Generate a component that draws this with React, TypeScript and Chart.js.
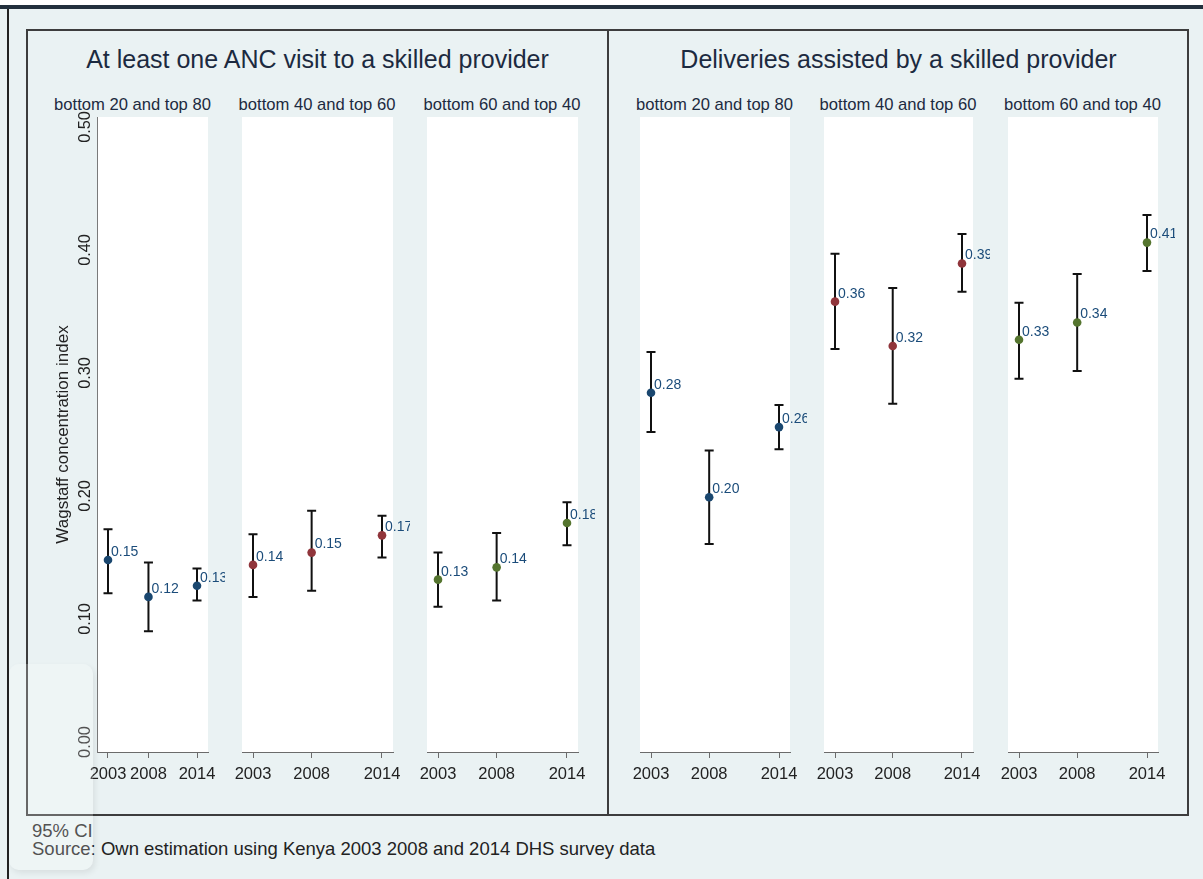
import React, { useEffect, useRef } from "react";
import { Chart, registerables } from "chart.js";

Chart.register(...registerables);

// Survey years shown on every panel
const years = [2003, 2008, 2014];
// Shared y-axis tick values
const yTicks = [0, 0.1, 0.2, 0.3, 0.4, 0.5];

// At least one ANC visit to a skilled provider: estimates and 95% CI bounds
const ancB20 = [0.148, 0.118, 0.127];
const ancB20Lo = [0.121, 0.09, 0.115];
const ancB20Hi = [0.173, 0.146, 0.141];

const ancB40 = [0.144, 0.154, 0.168];
const ancB40Lo = [0.118, 0.123, 0.15];
const ancB40Hi = [0.169, 0.188, 0.184];

const ancB60 = [0.132, 0.142, 0.178];
const ancB60Lo = [0.11, 0.115, 0.16];
const ancB60Hi = [0.154, 0.17, 0.195];

// Deliveries assisted by a skilled provider: estimates and 95% CI bounds
const delB20 = [0.284, 0.199, 0.256];
const delB20Lo = [0.252, 0.161, 0.238];
const delB20Hi = [0.317, 0.237, 0.274];

const delB40 = [0.358, 0.322, 0.389];
const delB40Lo = [0.3195, 0.275, 0.366];
const delB40Hi = [0.397, 0.369, 0.413];

const delB60 = [0.327, 0.341, 0.406];
const delB60Lo = [0.2954, 0.3016, 0.383];
const delB60Hi = [0.357, 0.3805, 0.4285];

const groupNames = ["bottom 20 and top 80", "bottom 40 and top 60", "bottom 60 and top 40"];
const groupColors = ["#1a476f", "#90353b", "#55752f"];

const FONT = "'Liberation Sans', Arial, Helvetica, sans-serif";
const TEXT_DARK = "#1c2a40";

// y range includes a small plot-region margin below 0 and above 0.5
const Y_MIN = -0.0081;
const Y_MAX = 0.5081;
const X_MARGIN_PX = 11;
const CANVAS_TOP = 100;
const CANVAS_HEIGHT = 700;
const SIDE_PAD = 17;

type PanelProps = {
  est: number[];
  lo: number[];
  hi: number[];
  color: string;
  plotLeft: number;
  plotRight: number;
  showY: boolean;
};

const ciPlugin = {
  id: "ciBars",
  beforeDraw(chart: any) {
    const { ctx, chartArea } = chart;
    ctx.save();
    ctx.fillStyle = "#ffffff";
    ctx.fillRect(chartArea.left, chartArea.top, chartArea.right - chartArea.left, chartArea.bottom - chartArea.top);
    ctx.restore();
  },
  beforeDatasetsDraw(chart: any, _args: any, opts: any) {
    const { ctx } = chart;
    const x = chart.scales.x;
    const y = chart.scales.y;
    ctx.save();
    ctx.strokeStyle = "#111111";
    ctx.lineWidth = 2;
    years.forEach((yr, i) => {
      const px = x.getPixelForValue(yr);
      const top = y.getPixelForValue(opts.hi[i]);
      const bot = y.getPixelForValue(opts.lo[i]);
      ctx.beginPath();
      ctx.moveTo(px, top);
      ctx.lineTo(px, bot);
      ctx.moveTo(px - 4.5, top);
      ctx.lineTo(px + 4.5, top);
      ctx.moveTo(px - 4.5, bot);
      ctx.lineTo(px + 4.5, bot);
      ctx.stroke();
    });
    ctx.restore();
  },
  afterDatasetsDraw(chart: any, _args: any, opts: any) {
    const { ctx } = chart;
    const x = chart.scales.x;
    const y = chart.scales.y;
    ctx.save();
    ctx.font = `14px ${FONT}`;
    ctx.fillStyle = "#1b4c7a";
    ctx.textAlign = "left";
    ctx.textBaseline = "middle";
    years.forEach((yr, i) => {
      const px = x.getPixelForValue(yr);
      const py = y.getPixelForValue(opts.est[i]);
      ctx.fillText(opts.est[i].toFixed(2), px + 3, py - 8);
    });
    ctx.restore();
  },
};

// Vertical (rotated) tick labels for the shared y axis
const yLabelPlugin = {
  id: "yRotLabels",
  afterDraw(chart: any, _args: any, opts: any) {
    if (!opts.show) return;
    const { ctx } = chart;
    const y = chart.scales.y;
    ctx.save();
    ctx.font = `16.3px ${FONT}`;
    ctx.fillStyle = "#222222";
    ctx.textAlign = "center";
    ctx.textBaseline = "middle";
    yTicks.forEach((v) => {
      const py = y.getPixelForValue(v);
      ctx.save();
      ctx.translate(opts.labelX, py);
      ctx.rotate(-Math.PI / 2);
      ctx.fillText(v.toFixed(2), 0, 0);
      ctx.restore();
    });
    ctx.restore();
  },
};

function Panel({ est, lo, hi, color, plotLeft, plotRight, showY }: PanelProps) {
  const ref = useRef<HTMLCanvasElement | null>(null);
  const canvasLeft = showY ? 30 : plotLeft - SIDE_PAD;
  const canvasRight = plotRight + SIDE_PAD;
  const width = canvasRight - canvasLeft;
  const plotWidth = plotRight - plotLeft;
  const pxPerYear = (plotWidth - 2 * X_MARGIN_PX) / (years[2] - years[0]);
  const xMin = years[0] - X_MARGIN_PX / pxPerYear;
  const xMax = years[2] + X_MARGIN_PX / pxPerYear;

  useEffect(() => {
    if (!ref.current) return;
    const chart = new Chart(ref.current, {
      type: "scatter",
      data: {
        datasets: [
          {
            data: years.map((yr, i) => ({ x: yr, y: est[i] })),
            backgroundColor: color,
            borderColor: color,
            borderWidth: 0,
            pointRadius: 4.3,
            pointHoverRadius: 4.3,
            clip: false,
          },
        ],
      },
      options: {
        animation: false,
        responsive: false,
        devicePixelRatio: 1,
        events: [],
        layout: {
          padding: {
            top: 17,
            bottom: 0,
            left: showY ? 0 : plotLeft - canvasLeft,
            right: canvasRight - plotRight,
          },
        },
        scales: {
          x: {
            type: "linear",
            min: xMin,
            max: xMax,
            afterBuildTicks: (s: any) => {
              s.ticks = years.map((v) => ({ value: v }));
            },
            ticks: {
              callback: (v: any) => String(v),
              font: { size: 16.5, family: FONT },
              color: "#222222",
              padding: 7,
              maxRotation: 0,
              minRotation: 0,
              autoSkip: false,
            },
            grid: { display: true, drawOnChartArea: false, drawTicks: true, tickLength: 6, color: "#6b6b6b", lineWidth: 1 },
            border: { display: true, color: "#6b6b6b", width: 1 },
            afterFit: (s: any) => {
              s.height = 48;
            },
          },
          y: {
            display: showY,
            min: Y_MIN,
            max: Y_MAX,
            afterBuildTicks: (s: any) => {
              s.ticks = yTicks.map((v) => ({ value: v }));
            },
            ticks: { display: false },
            grid: { display: false, drawTicks: false },
            border: { display: true, color: "#7a7a7a", width: 1 },
            title: {
              display: true,
              text: "Wagstaff concentration index",
              font: { size: 17, family: FONT },
              color: "#222222",
              padding: { top: 22.8, bottom: 0 },
            },
            afterFit: (s: any) => {
              if (showY) s.width = plotLeft - canvasLeft;
            },
          },
        },
        plugins: {
          legend: { display: false },
          tooltip: { enabled: false },
          ciBars: { est, lo, hi },
          yRotLabels: { show: showY, labelX: 86 - canvasLeft },
        } as any,
      },
      plugins: [ciPlugin, yLabelPlugin],
    } as any);
    return () => chart.destroy();
  }, []);

  return (
    <canvas
      ref={ref}
      width={width}
      height={CANVAS_HEIGHT}
      style={{ position: "absolute", left: canvasLeft, top: CANVAS_TOP, width, height: CANVAS_HEIGHT }}
    />
  );
}

const textStyle = (left: number, top: number, size: number, color: string, center: boolean): React.CSSProperties => ({
  position: "absolute",
  left,
  top,
  fontSize: size,
  color,
  fontFamily: FONT,
  whiteSpace: "nowrap",
  lineHeight: 1,
  transform: center ? "translate(-50%, -50%)" : "translate(0, -50%)",
});

export default function App() {
  const ancPanels = [
    { est: ancB20, lo: ancB20Lo, hi: ancB20Hi, plotLeft: 97, plotRight: 208, showY: true, sub: 132.5 },
    { est: ancB40, lo: ancB40Lo, hi: ancB40Hi, plotLeft: 242, plotRight: 393, showY: false, sub: 317 },
    { est: ancB60, lo: ancB60Lo, hi: ancB60Hi, plotLeft: 427, plotRight: 578, showY: false, sub: 502 },
  ];
  const delPanels = [
    { est: delB20, lo: delB20Lo, hi: delB20Hi, plotLeft: 640, plotRight: 790, showY: false, sub: 714.5 },
    { est: delB40, lo: delB40Lo, hi: delB40Hi, plotLeft: 824, plotRight: 973, showY: false, sub: 898 },
    { est: delB60, lo: delB60Lo, hi: delB60Hi, plotLeft: 1008, plotRight: 1158, showY: false, sub: 1082.5 },
  ];

  return (
    <div
      style={{
        position: "fixed",
        left: 0,
        top: 0,
        width: 1203,
        height: 879,
        background: "#eaf2f3",
        overflow: "hidden",
        fontFamily: FONT,
      }}
    >
      <div style={{ position: "absolute", left: 0, top: 0, width: 1203, height: 5, background: "#ffffff" }} />
      <div style={{ position: "absolute", left: 0, top: 5, width: 1203, height: 4, background: "#22303d" }} />
      <div style={{ position: "absolute", left: 7, top: 9, width: 2, height: 870, background: "#222222" }} />

      <div
        style={{
          position: "absolute",
          left: 26,
          top: 29,
          width: 583,
          height: 787,
          border: "2px solid #3d3d3d",
          boxSizing: "border-box",
        }}
      />
      <div
        style={{
          position: "absolute",
          left: 607,
          top: 29,
          width: 582,
          height: 787,
          border: "2px solid #3d3d3d",
          boxSizing: "border-box",
        }}
      />

      <div style={textStyle(317.5, 59, 25, TEXT_DARK, true)}>At least one ANC visit to a skilled provider</div>
      <div style={textStyle(898.5, 59, 25, TEXT_DARK, true)}>Deliveries assisted by a skilled provider</div>

      {ancPanels.map((p, i) => (
        <React.Fragment key={"anc" + i}>
          <div style={textStyle(p.sub, 105, 16.6, TEXT_DARK, true)}>{groupNames[i]}</div>
          <Panel est={p.est} lo={p.lo} hi={p.hi} color={groupColors[i]} plotLeft={p.plotLeft} plotRight={p.plotRight} showY={p.showY} />
        </React.Fragment>
      ))}
      {delPanels.map((p, i) => (
        <React.Fragment key={"del" + i}>
          <div style={textStyle(p.sub, 105, 16.6, TEXT_DARK, true)}>{groupNames[i]}</div>
          <Panel est={p.est} lo={p.lo} hi={p.hi} color={groupColors[i]} plotLeft={p.plotLeft} plotRight={p.plotRight} showY={p.showY} />
        </React.Fragment>
      ))}

      <div style={textStyle(32, 831, 18.5, "#222222", false)}>95% CI</div>
      <div style={textStyle(32, 849, 18.5, "#222222", false)}>Source: Own estimation using Kenya 2003 2008 and 2014 DHS survey data</div>

      <div
        style={{
          position: "absolute",
          left: 9,
          top: 664,
          width: 84,
          height: 206,
          borderRadius: 10,
          background: "rgba(255,255,255,0.22)",
          boxShadow: "2px 3px 6px rgba(0,0,0,0.08)",
          pointerEvents: "none",
        }}
      />
    </div>
  );
}
